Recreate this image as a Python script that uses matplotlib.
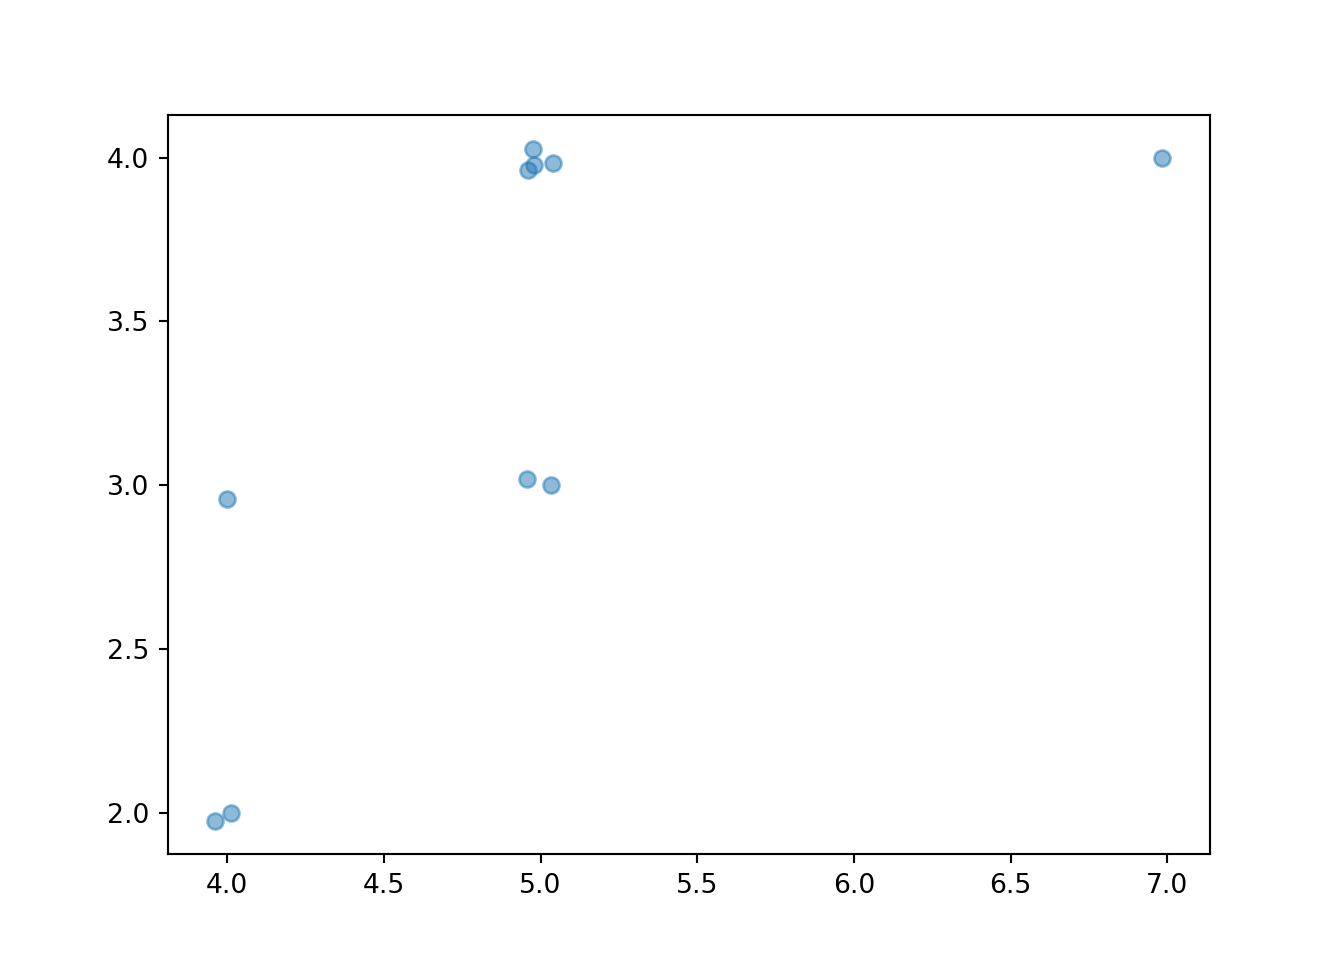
import matplotlib
matplotlib.use('Agg')
import matplotlib.pyplot as plt

# points (jittered integer pairs)
x_vals = [6.984, 4.977, 4.980, 4.961, 5.040, 4.000, 4.958, 5.034, 3.962, 4.013]
y_vals = [4.000, 4.027, 3.979, 3.963, 3.985, 2.959, 3.020, 3.002, 1.976, 2.000]

fig, ax = plt.subplots(figsize=(7, 5), dpi=192)
ax.scatter(x_vals, y_vals, alpha=0.5)

fig.savefig('out.png', dpi=192)
